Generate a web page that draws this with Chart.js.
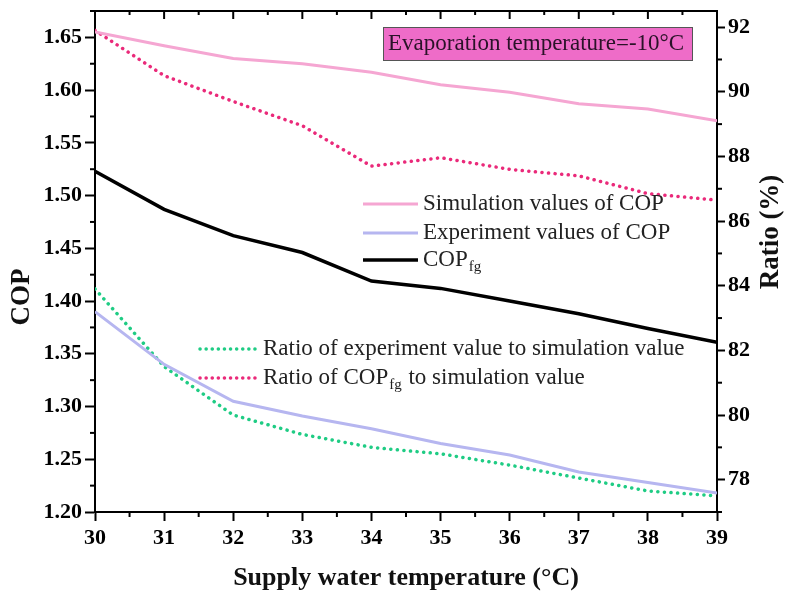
<!DOCTYPE html>
<html>
<head>
<meta charset="utf-8">
<script src="https://cdn.jsdelivr.net/npm/chart.js@4.4.1/dist/chart.umd.min.js"></script>
<style>
  html, body { margin: 0; padding: 0; background: #fff; }
</style>
</head>
<body>
<canvas id="chart" width="788" height="597"></canvas>
<script>
// supply water temperature (°C)
const supplyTemp = [30, 31, 32, 33, 34, 35, 36, 37, 38, 39];

// COP series (left axis)
const copSimulation = [1.655, 1.642, 1.630, 1.625, 1.617, 1.605, 1.598, 1.587, 1.582, 1.571];
const copExperiment = [1.390, 1.340, 1.305, 1.291, 1.279, 1.265, 1.254, 1.238, 1.228, 1.218];
const copFg = [1.523, 1.487, 1.462, 1.446, 1.419, 1.412, 1.400, 1.388, 1.374, 1.361];

// ratio series, % (right axis)
const ratioExperiment = [83.9, 81.5, 80.0, 79.4, 79.0, 78.8, 78.45, 78.05, 77.65, 77.5];
const ratioCopFg = [91.9, 90.5, 89.7, 88.95, 87.7, 87.96, 87.6, 87.4, 86.85, 86.65];

// tick labels
const tempTicks = [30, 31, 32, 33, 34, 35, 36, 37, 38, 39];
const copTicks = [1.20, 1.25, 1.30, 1.35, 1.40, 1.45, 1.50, 1.55, 1.60, 1.65];
const ratioTicks = [78, 80, 82, 84, 86, 88, 90, 92];

const SERIF = '"Liberation Serif", "Times New Roman", serif';
const C_SIM = '#f5a6d2';
const C_EXP = '#b6b6f0';
const C_FG = '#000000';
const C_RATIO_EXP = '#1fcc84';
const C_RATIO_FG = '#ea2a7a';

const pts = (ys) => supplyTemp.map((t, i) => ({ x: t, y: ys[i] }));

const axisCommon = {
  grid: { drawOnChartArea: false, tickLength: 9, tickWidth: 2, tickColor: '#000' },
  border: { color: '#000', width: 2 },
  ticks: { color: '#000', font: { family: SERIF, size: 22, weight: 'bold' } }
};

// fixed scale boxes so the plot area sits where it should
const fixBox = (w, h) => s => {
  if (w) s.width = w;
  if (h) s.height = h;
  s.paddingTop = 0; s.paddingBottom = 0; s.paddingLeft = 0; s.paddingRight = 0;
};

// frame top edge, inward top ticks and the minor ticks on every side
const framePlugin = {
  id: 'frame',
  afterDraw(chart) {
    const { ctx, chartArea: a, scales } = chart;
    const xs = scales.x, yl = scales.y, yr = scales.y1;
    const seg = (x1, y1, x2, y2) => { ctx.beginPath(); ctx.moveTo(x1, y1); ctx.lineTo(x2, y2); ctx.stroke(); };
    ctx.save();
    ctx.strokeStyle = '#000';
    ctx.lineWidth = 2;
    seg(a.left - 1, a.top, a.right + 1, a.top);
    tempTicks.forEach(t => {
      const x = xs.getPixelForValue(t);
      seg(x, a.top, x, a.top + 8);
      if (t < 39) {
        const xm = xs.getPixelForValue(t + 0.5);
        seg(xm, a.top, xm, a.top + 4);
        seg(xm, a.bottom, xm, a.bottom + 5);
      }
    });
    copTicks.forEach(v => {
      const y = yl.getPixelForValue(v + 0.025);
      seg(a.left - 5, y, a.left, y);
    });
    ratioTicks.forEach(v => {
      const y = yr.getPixelForValue(v - 1);
      seg(a.right, y, a.right + 5, y);
    });
    ctx.restore();
  }
};

function drawRich(ctx, x, y, main, sub, size) {
  ctx.font = `${size}px ${SERIF}`;
  ctx.fillText(main, x, y);
  if (sub) {
    const w = ctx.measureText(main).width;
    ctx.font = `${Math.round(size * 0.65)}px ${SERIF}`;
    ctx.fillText(sub, x + w + 1, y + size * 0.3);
  }
}

function legendRow(ctx, x1, x2, y, color, dotted, width, text, sub, tail) {
  ctx.save();
  ctx.strokeStyle = color;
  ctx.lineWidth = width;
  if (dotted) { ctx.setLineDash([0.1, 6]); ctx.lineCap = 'round'; }
  ctx.beginPath(); ctx.moveTo(x1, y); ctx.lineTo(x2, y); ctx.stroke();
  ctx.restore();
  ctx.fillStyle = '#222';
  ctx.textBaseline = 'middle';
  ctx.textAlign = 'left';
  drawRich(ctx, x2 + 5, y, text, sub, 23);
  if (tail) {
    ctx.font = `23px ${SERIF}`;
    const w1 = ctx.measureText(text).width;
    ctx.font = `15px ${SERIF}`;
    const w2 = ctx.measureText(sub).width;
    ctx.font = `23px ${SERIF}`;
    ctx.fillText(tail, x2 + 5 + w1 + w2 + 2, y);
  }
}

const labelsPlugin = {
  id: 'labels',
  afterDraw(chart) {
    const { ctx } = chart;
    ctx.save();

    // condition box
    ctx.fillStyle = '#ee6cc8';
    ctx.fillRect(383, 27, 309, 33);
    ctx.strokeStyle = '#555';
    ctx.lineWidth = 1;
    ctx.strokeRect(383.5, 27.5, 309, 33);
    ctx.fillStyle = '#2a1228';
    ctx.font = `23px ${SERIF}`;
    ctx.textBaseline = 'middle';
    ctx.textAlign = 'left';
    ctx.fillText('Evaporation temperature=-10\u00B0C', 388, 44);

    // COP legend
    legendRow(ctx, 363, 418, 204, C_SIM, false, 3, 'Simulation values of COP');
    legendRow(ctx, 363, 418, 233, C_EXP, false, 3, 'Experiment values of COP');
    legendRow(ctx, 363, 418, 260, C_FG, false, 3.5, 'COP', 'fg');

    // ratio legend
    legendRow(ctx, 200, 258, 349, C_RATIO_EXP, true, 3.5, 'Ratio of experiment value to simulation value');
    legendRow(ctx, 200, 258, 378, C_RATIO_FG, true, 3.5, 'Ratio of COP', 'fg', ' to simulation value');

    // axis titles
    ctx.fillStyle = '#111';
    ctx.textAlign = 'center';
    ctx.font = `bold 26px ${SERIF}`;
    ctx.fillText('Supply water temperature (\u00B0C)', 406, 578);

    ctx.font = `bold 27px ${SERIF}`;
    ctx.translate(22, 297);
    ctx.rotate(-Math.PI / 2);
    ctx.fillText('COP', 0, 0);
    ctx.setTransform(1, 0, 0, 1, 0, 0);
    ctx.translate(771, 232);
    ctx.rotate(-Math.PI / 2);
    ctx.fillText('Ratio (%)', 0, 0);

    ctx.restore();
  }
};

new Chart(document.getElementById('chart'), {
  type: 'line',
  data: {
    datasets: [
      { label: 'COPfg', data: pts(copFg), yAxisID: 'y', borderColor: C_FG, borderWidth: 3.5 },
      { label: 'Simulation values of COP', data: pts(copSimulation), yAxisID: 'y', borderColor: C_SIM, borderWidth: 3 },
      { label: 'Experiment values of COP', data: pts(copExperiment), yAxisID: 'y', borderColor: C_EXP, borderWidth: 3 },
      { label: 'Ratio of experiment value to simulation value', data: pts(ratioExperiment), yAxisID: 'y1',
        borderColor: C_RATIO_EXP, borderWidth: 3.5, borderDash: [0.1, 6.5], borderCapStyle: 'round' },
      { label: 'Ratio of COPfg to simulation value', data: pts(ratioCopFg), yAxisID: 'y1',
        borderColor: C_RATIO_FG, borderWidth: 3.5, borderDash: [0.1, 6.5], borderCapStyle: 'round' }
    ]
  },
  options: {
    responsive: false,
    animation: false,
    devicePixelRatio: 1,
    layout: { padding: { top: 11, left: 0, right: 0, bottom: 0 } },
    elements: { point: { radius: 0 }, line: { tension: 0 } },
    plugins: { legend: { display: false }, tooltip: { enabled: false } },
    scales: {
      x: {
        ...axisCommon,
        type: 'linear', min: 30, max: 39,
        afterBuildTicks: s => { s.ticks = tempTicks.map(v => ({ value: v })); },
        afterFit: fixBox(0, 85),
        ticks: { ...axisCommon.ticks, padding: 4 }
      },
      y: {
        ...axisCommon,
        position: 'left', min: 1.2, max: 1.675,
        grid: { ...axisCommon.grid, tickLength: 10 },
        afterBuildTicks: s => { s.ticks = copTicks.map(v => ({ value: v })); },
        afterFit: fixBox(95, 0),
        ticks: { ...axisCommon.ticks, padding: 3, callback: v => v.toFixed(2) }
      },
      y1: {
        ...axisCommon,
        position: 'right', min: 77, max: 92.5,
        grid: { ...axisCommon.grid, tickLength: 8 },
        afterBuildTicks: s => { s.ticks = ratioTicks.map(v => ({ value: v })); },
        afterFit: fixBox(71, 0),
        ticks: { ...axisCommon.ticks, padding: 3 }
      }
    }
  },
  plugins: [framePlugin, labelsPlugin]
});
</script>
</body>
</html>
